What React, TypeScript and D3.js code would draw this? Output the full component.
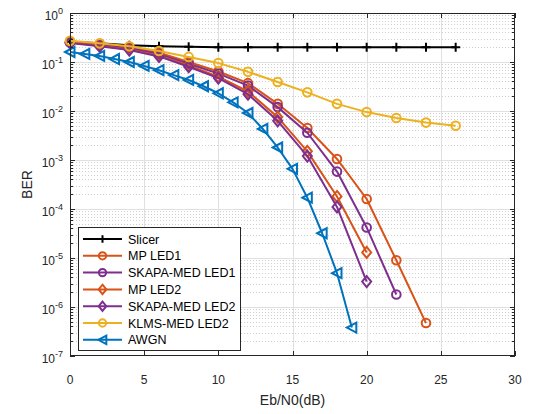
import React, { useEffect, useRef } from 'react';
import * as d3 from 'd3';

// Eb/N0 grids (dB)
const snrEven = [0, 2, 4, 6, 8, 10, 12, 14, 16, 18, 20, 22, 24, 26];
const snrAwgn = [0, 1, 2, 3, 4, 5, 6, 7, 8, 9, 10, 11, 12, 13, 14, 15, 16, 17, 18, 19];

// BER values
const slicer = [0.26, 0.24, 0.22, 0.21, 0.205, 0.2, 0.2, 0.2, 0.2, 0.2, 0.2, 0.2, 0.2, 0.2];
const mpLed1 = [0.26, 0.23, 0.2, 0.155, 0.1, 0.064, 0.037, 0.014, 0.0045, 0.00105, 1.6e-4, 9e-6, 4.7e-7];
const skapaLed1 = [0.25, 0.22, 0.19, 0.145, 0.092, 0.058, 0.033, 0.012, 0.0036, 5.8e-4, 4.2e-5, 1.8e-6];
const mpLed2 = [0.25, 0.215, 0.18, 0.135, 0.085, 0.05, 0.025, 0.0075, 0.0015, 1.8e-4, 1.3e-5];
const skapaLed2 = [0.245, 0.21, 0.175, 0.13, 0.08, 0.047, 0.022, 0.0063, 0.0012, 1.1e-4, 3.3e-6];
const klmsLed2 = [0.27, 0.24, 0.21, 0.168, 0.127, 0.095, 0.063, 0.039, 0.024, 0.014, 0.0095, 0.0072, 0.0058, 0.005];
const awgn = [0.16, 0.146, 0.133, 0.115, 0.1, 0.083, 0.068, 0.054, 0.043, 0.032, 0.023, 0.015, 0.0091, 0.0043, 0.0018, 6.6e-4, 1.7e-4, 3.2e-5, 4.9e-6, 3.8e-7];

const xTicks = [0, 5, 10, 15, 20, 25, 30];
const yExps = [0, -1, -2, -3, -4, -5, -6, -7];

const series = [
  { name: 'Slicer', x: snrEven, y: slicer, color: '#000000', marker: 'plus' },
  { name: 'MP LED1', x: snrEven, y: mpLed1, color: '#D95319', marker: 'circle' },
  { name: 'SKAPA-MED LED1', x: snrEven, y: skapaLed1, color: '#7E2F8E', marker: 'circle' },
  { name: 'MP LED2', x: snrEven, y: mpLed2, color: '#D95319', marker: 'diamond' },
  { name: 'SKAPA-MED LED2', x: snrEven, y: skapaLed2, color: '#7E2F8E', marker: 'diamond' },
  { name: 'KLMS-MED LED2', x: snrEven, y: klmsLed2, color: '#EDB120', marker: 'circle' },
  { name: 'AWGN', x: snrAwgn, y: awgn, color: '#0072BD', marker: 'triangle' },
];

const W = 538;
const H = 414;
const FONT = '"Liberation Sans", Arial, Helvetica, sans-serif';
const AX = '#262626';

const drawMarker = (g, type, cx, cy, color, s = 1) => {
  if (type === 'circle') {
    g.append('circle').attr('cx', cx).attr('cy', cy).attr('r', 4.3 * s)
      .attr('fill', 'none').attr('stroke', color).attr('stroke-width', 2);
  } else if (type === 'diamond') {
    g.append('path').attr('d', `M${cx},${cy - 5.5 * s}L${cx + 4.5 * s},${cy}L${cx},${cy + 5.5 * s}L${cx - 4.5 * s},${cy}Z`)
      .attr('fill', 'none').attr('stroke', color).attr('stroke-width', 2);
  } else if (type === 'triangle') {
    g.append('path').attr('d', `M${cx - 5 * s},${cy}L${cx + 4.5 * s},${cy - 5 * s}L${cx + 4.5 * s},${cy + 5 * s}Z`)
      .attr('fill', 'none').attr('stroke', color).attr('stroke-width', 2).attr('stroke-linejoin', 'miter');
  } else {
    g.append('path').attr('d', `M${cx - 4.5 * s},${cy}H${cx + 4.5 * s}M${cx},${cy - 4.5 * s}V${cy + 4.5 * s}`)
      .attr('stroke', color).attr('stroke-width', 2);
  }
};

const BerChart = () => {
  const svgRef = useRef(null);

  useEffect(() => {
    const svg = d3.select(svgRef.current);
    svg.selectAll('*').remove();

    const left = 70, right = 515, top = 13, bottom = 356;
    const x = d3.scaleLinear().domain([0, 30]).range([left, right]);
    const y = d3.scaleLog().domain([1e-7, 1]).range([bottom, top]);

    svg.append('rect').attr('x', left).attr('y', top).attr('width', right - left).attr('height', bottom - top).attr('fill', '#fff');

    // minor grid (y only) - dotted
    const minors = [];
    yExps.slice(1).forEach(e => {
      for (let k = 2; k <= 9; k++) minors.push(k * Math.pow(10, e));
    });
    const grid = svg.append('g');
    grid.selectAll('.ymin').data(minors).enter().append('line')
      .attr('x1', left).attr('x2', right)
      .attr('y1', d => Math.round(y(d)) + 0.5).attr('y2', d => Math.round(y(d)) + 0.5)
      .attr('stroke', '#d0d0d0').attr('stroke-width', 1).attr('stroke-dasharray', '1,2');

    // major grid
    grid.selectAll('.xmaj').data(xTicks.slice(1, -1)).enter().append('line')
      .attr('x1', d => Math.round(x(d)) + 0.5).attr('x2', d => Math.round(x(d)) + 0.5)
      .attr('y1', top).attr('y2', bottom)
      .attr('stroke', '#e0e0e0').attr('stroke-width', 1);
    grid.selectAll('.ymaj').data(yExps.slice(1, -1)).enter().append('line')
      .attr('x1', left).attr('x2', right)
      .attr('y1', d => Math.round(y(Math.pow(10, d))) + 0.5).attr('y2', d => Math.round(y(Math.pow(10, d))) + 0.5)
      .attr('stroke', '#e0e0e0').attr('stroke-width', 1);

    // data
    const plot = svg.append('g');
    const line = d3.line().x(d => x(d[0])).y(d => y(d[1]));
    series.forEach(s => {
      const pts = s.y.map((v, i) => [s.x[i], v]);
      plot.append('path').datum(pts).attr('d', line)
        .attr('fill', 'none').attr('stroke', s.color).attr('stroke-width', 2).attr('stroke-linejoin', 'round');
      pts.forEach(p => drawMarker(plot, s.marker, x(p[0]), y(p[1]), s.color));
    });

    // box and ticks
    const axes = svg.append('g').attr('stroke', AX).attr('stroke-width', 1);
    axes.append('rect').attr('x', left + 0.5).attr('y', top + 0.5)
      .attr('width', right - left - 1).attr('height', bottom - top - 1).attr('fill', 'none');
    xTicks.forEach(t => {
      const px = Math.round(x(t)) + 0.5;
      axes.append('line').attr('x1', px).attr('x2', px).attr('y1', bottom).attr('y2', bottom - 5);
      axes.append('line').attr('x1', px).attr('x2', px).attr('y1', top).attr('y2', top + 5);
    });
    yExps.forEach(e => {
      const py = Math.round(y(Math.pow(10, e))) + 0.5;
      axes.append('line').attr('x1', left).attr('x2', left + 5).attr('y1', py).attr('y2', py);
      axes.append('line').attr('x1', right).attr('x2', right - 5).attr('y1', py).attr('y2', py);
    });
    minors.forEach(m => {
      const py = Math.round(y(m)) + 0.5;
      axes.append('line').attr('x1', left).attr('x2', left + 3).attr('y1', py).attr('y2', py);
      axes.append('line').attr('x1', right).attr('x2', right - 3).attr('y1', py).attr('y2', py);
    });

    // tick labels
    const labels = svg.append('g').attr('font-family', FONT).attr('fill', AX);
    xTicks.forEach(t => {
      labels.append('text').attr('x', x(t)).attr('y', bottom + 28)
        .attr('text-anchor', 'middle').attr('font-size', 12).text(t);
    });
    yExps.forEach(e => {
      const txt = labels.append('text').attr('x', 63).attr('y', y(Math.pow(10, e)) + 7)
        .attr('text-anchor', 'end').attr('font-size', 12);
      txt.append('tspan').text('10');
      txt.append('tspan').attr('dy', -6).attr('font-size', 9).text(e);
    });
    labels.append('text').attr('x', (left + right) / 2).attr('y', bottom + 49)
      .attr('text-anchor', 'middle').attr('font-size', 14).text('Eb/N0(dB)');
    labels.append('text').attr('transform', `translate(32,${(top + bottom) / 2}) rotate(-90)`)
      .attr('text-anchor', 'middle').attr('font-size', 14).text('BER');

    // legend
    const lg = svg.append('g').attr('transform', 'translate(78,227)');
    lg.append('rect').attr('x', 0.5).attr('y', 0.5).attr('width', 162).attr('height', 123)
      .attr('fill', '#fff').attr('stroke', AX).attr('stroke-width', 1);
    series.forEach((s, i) => {
      const ly = 12 + i * 16.8;
      lg.append('line').attr('x1', 5).attr('x2', 44).attr('y1', ly).attr('y2', ly)
        .attr('stroke', s.color).attr('stroke-width', 2);
      drawMarker(lg, s.marker, 24.5, ly, s.color, 0.85);
      lg.append('text').attr('x', 50).attr('y', ly + 4.5).attr('font-family', FONT)
        .attr('font-size', 12.5).attr('fill', '#000').text(s.name);
    });
  }, []);

  return <svg ref={svgRef} width={W} height={H} style={{ display: 'block' }}></svg>;
};

export default function App() {
  return (
    <div style={{ position: 'absolute', left: 0, top: 0, width: W, height: H, background: '#fff' }}>
      <BerChart />
    </div>
  );
}
